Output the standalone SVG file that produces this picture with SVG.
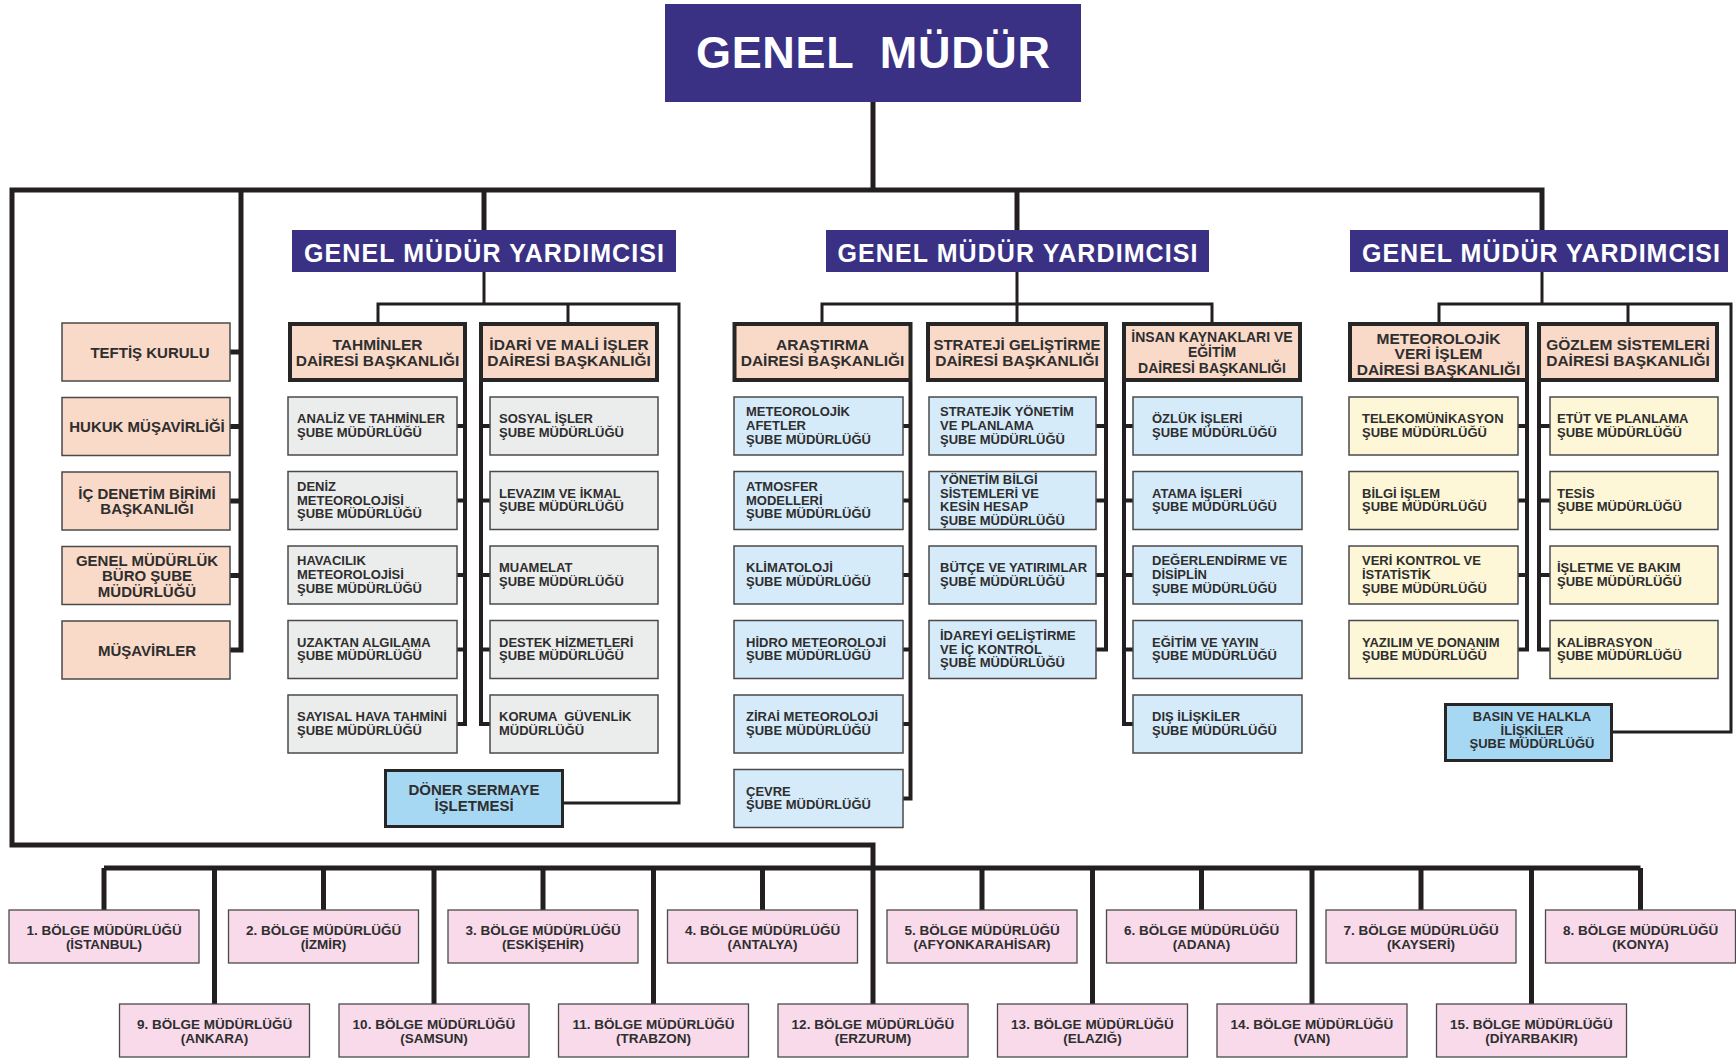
<svg xmlns="http://www.w3.org/2000/svg" width="1736" height="1059" viewBox="0 0 1736 1059">
<style>
.t{font-family:"Liberation Sans",Arial,Helvetica,sans-serif;font-weight:bold;fill:#2e2e2e}
.m{text-anchor:middle}
.w{fill:#ffffff}
.s13{font-size:13px}
.s15{font-size:15px}
.s155{font-size:15.5px}
.s135{font-size:13.5px}
.gm{fill:#3a3185}
.pe{fill:#f9d9c8;stroke:#4a4a4a;stroke-width:1.5}
.pd{fill:#f9d9c8;stroke:#262626;stroke-width:4}
.gr{fill:#ebecec;stroke:#4a4a4a;stroke-width:1.5}
.bl{fill:#d6ebfa;stroke:#4a4a4a;stroke-width:1.5}
.ye{fill:#fdf6d7;stroke:#4a4a4a;stroke-width:1.5}
.db{fill:#a6d8f4;stroke:#262626;stroke-width:3}
.pk{fill:#f8daeb;stroke:#4a4a4a;stroke-width:1.3}
.ln{fill:none;stroke:#231f20;stroke-linejoin:miter}
.tr{stroke-width:5}
.sp{stroke-width:4}
.br{stroke-width:3}
</style>
<rect width="1736" height="1059" fill="#ffffff"/>

<g id="connectors">
  <g class="ln tr">
    <path d="M873,102 V190"/>
    <path d="M873,1004 V845 H12 V190 H1542 V230"/>
    <path d="M484,190 V230 M1017,190 V230"/>
    <path d="M241,190 V650 H230"/>
    <path d="M230,352 H241 M230,426.5 H241 M230,501 H241 M230,575.5 H241"/>
    <path d="M104,868 H1640.5"/>
    <path d="M104,868 V910 M323.5,868 V910 M543,868 V910 M762.5,868 V910 M982,868 V910 M1201.5,868 V910 M1421,868 V910 M1640.5,868 V910"/>
    <path d="M214.5,868 V1004 M434,868 V1004 M653.5,868 V1004 M1092.5,868 V1004 M1312,868 V1004 M1531.5,868 V1004"/>
  </g>
  <g class="ln br">
    <path d="M484,272 V304 M1017,272 V304 M1542,272 V304"/>
    <path d="M378,322 V304 H679 V803 H564"/>
    <path d="M568,304 V322"/>
    <path d="M822,322 V304 H1212 V322"/>
    <path d="M1017,304 V322"/>
    <path d="M1439,322 V304 H1731 V732 H1613"/>
    <path d="M1628,304 V322"/>
  </g>
  <g class="ln sp">
    <path d="M465,382 V724 H457 M457,426 H465 M457,500.5 H465 M457,575 H465 M457,649.5 H465"/>
    <path d="M481,382 V724 H490 M490,426 H481 M490,500.5 H481 M490,575 H481 M490,649.5 H481"/>
    <path d="M910.5,382 V798.5 H903 M903,426 H910.5 M903,500.5 H910.5 M903,575 H910.5 M903,649.5 H910.5 M903,724 H910.5"/>
    <path d="M1106,382 V649.5 H1096 M1096,426 H1106 M1096,500.5 H1106 M1096,575 H1106"/>
    <path d="M1124,382 V724 H1133 M1133,426 H1124 M1133,500.5 H1124 M1133,575 H1124 M1133,649.5 H1124"/>
    <path d="M1527,382 V649.5 H1518 M1518,426 H1527 M1518,500.5 H1527 M1518,575 H1527"/>
    <path d="M1539,382 V649.5 H1550 M1550,426 H1539 M1550,500.5 H1539 M1550,575 H1539"/>
  </g>
</g>

<g id="genel-mudur">
  <rect class="gm" x="665" y="4" width="416" height="98"/>
  <text class="t w m" x="873" y="68" font-size="45" textLength="354" xml:space="preserve">GENEL  MÜDÜR</text>
</g>
<g id="gmy1"><rect class="gm" x="292" y="230" width="384" height="42"/><text class="t w m" x="484" y="262" font-size="25" textLength="360">GENEL MÜDÜR YARDIMCISI</text></g>
<g id="gmy2"><rect class="gm" x="826" y="230" width="383" height="42"/><text class="t w m" x="1017.5" y="262" font-size="25" textLength="360">GENEL MÜDÜR YARDIMCISI</text></g>
<g id="gmy3"><rect class="gm" x="1350" y="230" width="378" height="42"/><text class="t w m" x="1541" y="262" font-size="25" textLength="358">GENEL MÜDÜR YARDIMCISI</text></g>

<!-- left units -->
<g id="teftis"><rect class="pe" x="62" y="323" width="168" height="58"/><text class="t s15 m" x="150" y="357.5">TEFTİŞ KURULU</text></g>
<g id="hukuk"><rect class="pe" x="62" y="397.5" width="168" height="58"/><text class="t s15 m" x="147" y="432">HUKUK MÜŞAVİRLİĞİ</text></g>
<g id="ic-denetim"><rect class="pe" x="62" y="472" width="168" height="58"/><text class="t s15 m"><tspan x="147" y="498.8">İÇ DENETİM BİRİMİ</tspan><tspan x="147" y="514.3">BAŞKANLIĞI</tspan></text></g>
<g id="buro"><rect class="pe" x="62" y="546.5" width="168" height="58"/><text class="t s15 m"><tspan x="147" y="565.5">GENEL MÜDÜRLÜK</tspan><tspan x="147" y="581">BÜRO ŞUBE</tspan><tspan x="147" y="596.5">MÜDÜRLÜĞÜ</tspan></text></g>
<g id="musavirler"><rect class="pe" x="62" y="621" width="168" height="58"/><text class="t s15 m" x="147" y="655.5">MÜŞAVİRLER</text></g>

<!-- daire baskanliklari -->
<g id="tahminler"><rect class="pd" x="290" y="324" width="175" height="56"/><text class="t s155 m"><tspan x="377.5" y="349.5">TAHMİNLER</tspan><tspan x="377.5" y="365.5">DAİRESİ BAŞKANLIĞI</tspan></text></g>
<g id="idari"><rect class="pd" x="481" y="324" width="176" height="56"/><text class="t s155 m"><tspan x="569" y="349.5">İDARİ VE MALİ İŞLER</tspan><tspan x="569" y="365.5">DAİRESİ BAŞKANLIĞI</tspan></text></g>
<g id="arastirma"><rect class="pd" x="734.5" y="324" width="176" height="56"/><text class="t s155 m"><tspan x="822.5" y="349.5">ARAŞTIRMA</tspan><tspan x="822.5" y="365.5">DAİRESİ BAŞKANLIĞI</tspan></text></g>
<g id="strateji"><rect class="pd" x="928" y="324" width="178" height="56"/><text class="t m"><tspan class="s15" x="1017" y="349.5">STRATEJİ GELİŞTİRME</tspan><tspan class="s155" x="1017" y="365.5">DAİRESİ BAŞKANLIĞI</tspan></text></g>
<g id="insan"><rect class="pd" x="1124" y="324" width="176" height="56"/><text class="t m" font-size="14"><tspan x="1212" y="342">İNSAN KAYNAKLARI VE</tspan><tspan x="1212" y="357">EĞİTİM</tspan><tspan x="1212" y="372.5">DAİRESİ BAŞKANLIĞI</tspan></text></g>
<g id="veri-islem"><rect class="pd" x="1350" y="324" width="177" height="56"/><text class="t s155 m"><tspan x="1438.5" y="343.5">METEOROLOJİK</tspan><tspan x="1438.5" y="359">VERİ İŞLEM</tspan><tspan x="1438.5" y="374.5">DAİRESİ BAŞKANLIĞI</tspan></text></g>
<g id="gozlem"><rect class="pd" x="1539" y="324" width="178" height="56"/><text class="t s155 m"><tspan x="1628" y="350">GÖZLEM SİSTEMLERİ</tspan><tspan x="1628" y="365.5">DAİRESİ BAŞKANLIĞI</tspan></text></g>

<!-- Tahminler children -->
<g id="analiz"><rect class="gr" x="288" y="397" width="169" height="58"/><text class="t s13"><tspan x="297" y="423.2">ANALİZ VE TAHMİNLER</tspan><tspan x="297" y="436.8">ŞUBE MÜDÜRLÜĞÜ</tspan></text></g>
<g id="deniz"><rect class="gr" x="288" y="471.5" width="169" height="58"/><text class="t s13"><tspan x="297" y="490.9">DENİZ</tspan><tspan x="297" y="504.5">METEOROLOJİSİ</tspan><tspan x="297" y="518.1">ŞUBE MÜDÜRLÜĞÜ</tspan></text></g>
<g id="havacilik"><rect class="gr" x="288" y="546" width="169" height="58"/><text class="t s13"><tspan x="297" y="565.4">HAVACILIK</tspan><tspan x="297" y="579">METEOROLOJİSİ</tspan><tspan x="297" y="592.6">ŞUBE MÜDÜRLÜĞÜ</tspan></text></g>
<g id="uzaktan"><rect class="gr" x="288" y="620.5" width="169" height="58"/><text class="t s13"><tspan x="297" y="646.7">UZAKTAN ALGILAMA</tspan><tspan x="297" y="660.3">ŞUBE MÜDÜRLÜĞÜ</tspan></text></g>
<g id="sayisal"><rect class="gr" x="288" y="695" width="169" height="58"/><text class="t s13"><tspan x="297" y="721.2">SAYISAL HAVA TAHMİNİ</tspan><tspan x="297" y="734.8">ŞUBE MÜDÜRLÜĞÜ</tspan></text></g>

<!-- Idari children -->
<g id="sosyal"><rect class="gr" x="490" y="397" width="168" height="58"/><text class="t s13"><tspan x="499" y="423.2">SOSYAL İŞLER</tspan><tspan x="499" y="436.8">ŞUBE MÜDÜRLÜĞÜ</tspan></text></g>
<g id="levazim"><rect class="gr" x="490" y="471.5" width="168" height="58"/><text class="t s13"><tspan x="499" y="497.7">LEVAZIM VE İKMAL</tspan><tspan x="499" y="511.3">ŞUBE MÜDÜRLÜĞÜ</tspan></text></g>
<g id="muamelat"><rect class="gr" x="490" y="546" width="168" height="58"/><text class="t s13"><tspan x="499" y="572.2">MUAMELAT</tspan><tspan x="499" y="585.8">ŞUBE MÜDÜRLÜĞÜ</tspan></text></g>
<g id="destek"><rect class="gr" x="490" y="620.5" width="168" height="58"/><text class="t s13"><tspan x="499" y="646.7">DESTEK HİZMETLERİ</tspan><tspan x="499" y="660.3">ŞUBE MÜDÜRLÜĞÜ</tspan></text></g>
<g id="koruma"><rect class="gr" x="490" y="695" width="168" height="58"/><text class="t s13" xml:space="preserve"><tspan x="499" y="721.2">KORUMA  GÜVENLİK</tspan><tspan x="499" y="734.8">MÜDÜRLÜĞÜ</tspan></text></g>

<g id="doner"><rect class="db" x="385.5" y="770.5" width="177" height="56"/><text class="t s15 m"><tspan x="474" y="795">DÖNER SERMAYE</tspan><tspan x="474" y="811">İŞLETMESİ</tspan></text></g>

<!-- Arastirma children -->
<g id="afetler"><rect class="bl" x="734" y="397" width="169" height="58"/><text class="t s13"><tspan x="746" y="416.4">METEOROLOJİK</tspan><tspan x="746" y="430">AFETLER</tspan><tspan x="746" y="443.6">ŞUBE MÜDÜRLÜĞÜ</tspan></text></g>
<g id="atmosfer"><rect class="bl" x="734" y="471.5" width="169" height="58"/><text class="t s13"><tspan x="746" y="490.9">ATMOSFER</tspan><tspan x="746" y="504.5">MODELLERİ</tspan><tspan x="746" y="518.1">ŞUBE MÜDÜRLÜĞÜ</tspan></text></g>
<g id="klimatoloji"><rect class="bl" x="734" y="546" width="169" height="58"/><text class="t s13"><tspan x="746" y="572.2">KLİMATOLOJİ</tspan><tspan x="746" y="585.8">ŞUBE MÜDÜRLÜĞÜ</tspan></text></g>
<g id="hidro"><rect class="bl" x="734" y="620.5" width="169" height="58"/><text class="t s13"><tspan x="746" y="646.7">HİDRO METEOROLOJİ</tspan><tspan x="746" y="660.3">ŞUBE MÜDÜRLÜĞÜ</tspan></text></g>
<g id="zirai"><rect class="bl" x="734" y="695" width="169" height="58"/><text class="t s13"><tspan x="746" y="721.2">ZİRAİ METEOROLOJİ</tspan><tspan x="746" y="734.8">ŞUBE MÜDÜRLÜĞÜ</tspan></text></g>
<g id="cevre"><rect class="bl" x="734" y="769.5" width="169" height="58"/><text class="t s13"><tspan x="746" y="795.7">ÇEVRE</tspan><tspan x="746" y="809.3">ŞUBE MÜDÜRLÜĞÜ</tspan></text></g>

<!-- Strateji children -->
<g id="stratejik"><rect class="bl" x="929" y="397" width="167" height="58"/><text class="t s13"><tspan x="940" y="416.4">STRATEJİK YÖNETİM</tspan><tspan x="940" y="430">VE PLANLAMA</tspan><tspan x="940" y="443.6">ŞUBE MÜDÜRLÜĞÜ</tspan></text></g>
<g id="ybs"><rect class="bl" x="929" y="471.5" width="167" height="58"/><text class="t s13"><tspan x="940" y="484.1">YÖNETİM BİLGİ</tspan><tspan x="940" y="497.7">SİSTEMLERİ VE</tspan><tspan x="940" y="511.3">KESİN HESAP</tspan><tspan x="940" y="524.9">ŞUBE MÜDÜRLÜĞÜ</tspan></text></g>
<g id="butce"><rect class="bl" x="929" y="546" width="167" height="58"/><text class="t s13"><tspan x="940" y="572.2">BÜTÇE VE YATIRIMLAR</tspan><tspan x="940" y="585.8">ŞUBE MÜDÜRLÜĞÜ</tspan></text></g>
<g id="idareyi"><rect class="bl" x="929" y="620.5" width="167" height="58"/><text class="t s13"><tspan x="940" y="639.9">İDAREYİ GELİŞTİRME</tspan><tspan x="940" y="653.5">VE İÇ KONTROL</tspan><tspan x="940" y="667.1">ŞUBE MÜDÜRLÜĞÜ</tspan></text></g>

<!-- Insan children -->
<g id="ozluk"><rect class="bl" x="1133" y="397" width="169" height="58"/><text class="t s13"><tspan x="1152" y="423.2">ÖZLÜK İŞLERİ</tspan><tspan x="1152" y="436.8">ŞUBE MÜDÜRLÜĞÜ</tspan></text></g>
<g id="atama"><rect class="bl" x="1133" y="471.5" width="169" height="58"/><text class="t s13"><tspan x="1152" y="497.7">ATAMA İŞLERİ</tspan><tspan x="1152" y="511.3">ŞUBE MÜDÜRLÜĞÜ</tspan></text></g>
<g id="degerlendirme"><rect class="bl" x="1133" y="546" width="169" height="58"/><text class="t s13"><tspan x="1152" y="565.4">DEĞERLENDİRME VE</tspan><tspan x="1152" y="579">DİSİPLİN</tspan><tspan x="1152" y="592.6">ŞUBE MÜDÜRLÜĞÜ</tspan></text></g>
<g id="egitim"><rect class="bl" x="1133" y="620.5" width="169" height="58"/><text class="t s13"><tspan x="1152" y="646.7">EĞİTİM VE YAYIN</tspan><tspan x="1152" y="660.3">ŞUBE MÜDÜRLÜĞÜ</tspan></text></g>
<g id="dis-iliskiler"><rect class="bl" x="1133" y="695" width="169" height="58"/><text class="t s13"><tspan x="1152" y="721.2">DIŞ İLİŞKİLER</tspan><tspan x="1152" y="734.8">ŞUBE MÜDÜRLÜĞÜ</tspan></text></g>

<!-- Veri islem children -->
<g id="telekom"><rect class="ye" x="1349" y="397" width="169" height="58"/><text class="t s13"><tspan x="1362" y="423.2">TELEKOMÜNİKASYON</tspan><tspan x="1362" y="436.8">ŞUBE MÜDÜRLÜĞÜ</tspan></text></g>
<g id="bilgi-islem"><rect class="ye" x="1349" y="471.5" width="169" height="58"/><text class="t s13"><tspan x="1362" y="497.7">BİLGİ İŞLEM</tspan><tspan x="1362" y="511.3">ŞUBE MÜDÜRLÜĞÜ</tspan></text></g>
<g id="veri-kontrol"><rect class="ye" x="1349" y="546" width="169" height="58"/><text class="t s13"><tspan x="1362" y="565.4">VERİ KONTROL VE</tspan><tspan x="1362" y="579">İSTATİSTİK</tspan><tspan x="1362" y="592.6">ŞUBE MÜDÜRLÜĞÜ</tspan></text></g>
<g id="yazilim"><rect class="ye" x="1349" y="620.5" width="169" height="58"/><text class="t s13"><tspan x="1362" y="646.7">YAZILIM VE DONANIM</tspan><tspan x="1362" y="660.3">ŞUBE MÜDÜRLÜĞÜ</tspan></text></g>

<!-- Gozlem children -->
<g id="etut"><rect class="ye" x="1550" y="397" width="168" height="58"/><text class="t s13"><tspan x="1557" y="423.2">ETÜT VE PLANLAMA</tspan><tspan x="1557" y="436.8">ŞUBE MÜDÜRLÜĞÜ</tspan></text></g>
<g id="tesis"><rect class="ye" x="1550" y="471.5" width="168" height="58"/><text class="t s13"><tspan x="1557" y="497.7">TESİS</tspan><tspan x="1557" y="511.3">ŞUBE MÜDÜRLÜĞÜ</tspan></text></g>
<g id="isletme"><rect class="ye" x="1550" y="546" width="168" height="58"/><text class="t s13"><tspan x="1557" y="572.2">İŞLETME VE BAKIM</tspan><tspan x="1557" y="585.8">ŞUBE MÜDÜRLÜĞÜ</tspan></text></g>
<g id="kalibrasyon"><rect class="ye" x="1550" y="620.5" width="168" height="58"/><text class="t s13"><tspan x="1557" y="646.7">KALİBRASYON</tspan><tspan x="1557" y="660.3">ŞUBE MÜDÜRLÜĞÜ</tspan></text></g>

<g id="basin"><rect class="db" x="1445.5" y="704.5" width="166" height="56"/><text class="t s13 m"><tspan x="1532" y="721">BASIN VE HALKLA</tspan><tspan x="1532" y="734.5">İLİŞKİLER</tspan><tspan x="1532" y="748">ŞUBE MÜDÜRLÜĞÜ</tspan></text></g>

<!-- Bolge mudurlukleri -->
<g id="bolge1"><rect class="pk" x="9" y="910" width="190" height="53"/><text class="t s135 m"><tspan x="104" y="935">1. BÖLGE MÜDÜRLÜĞÜ</tspan><tspan x="104" y="949">(İSTANBUL)</tspan></text></g>
<g id="bolge2"><rect class="pk" x="228.5" y="910" width="190" height="53"/><text class="t s135 m"><tspan x="323.5" y="935">2. BÖLGE MÜDÜRLÜĞÜ</tspan><tspan x="323.5" y="949">(İZMİR)</tspan></text></g>
<g id="bolge3"><rect class="pk" x="448" y="910" width="190" height="53"/><text class="t s135 m"><tspan x="543" y="935">3. BÖLGE MÜDÜRLÜĞÜ</tspan><tspan x="543" y="949">(ESKİŞEHİR)</tspan></text></g>
<g id="bolge4"><rect class="pk" x="667.5" y="910" width="190" height="53"/><text class="t s135 m"><tspan x="762.5" y="935">4. BÖLGE MÜDÜRLÜĞÜ</tspan><tspan x="762.5" y="949">(ANTALYA)</tspan></text></g>
<g id="bolge5"><rect class="pk" x="887" y="910" width="190" height="53"/><text class="t s135 m"><tspan x="982" y="935">5. BÖLGE MÜDÜRLÜĞÜ</tspan><tspan x="982" y="949">(AFYONKARAHİSAR)</tspan></text></g>
<g id="bolge6"><rect class="pk" x="1106.5" y="910" width="190" height="53"/><text class="t s135 m"><tspan x="1201.5" y="935">6. BÖLGE MÜDÜRLÜĞÜ</tspan><tspan x="1201.5" y="949">(ADANA)</tspan></text></g>
<g id="bolge7"><rect class="pk" x="1326" y="910" width="190" height="53"/><text class="t s135 m"><tspan x="1421" y="935">7. BÖLGE MÜDÜRLÜĞÜ</tspan><tspan x="1421" y="949">(KAYSERİ)</tspan></text></g>
<g id="bolge8"><rect class="pk" x="1545.5" y="910" width="190" height="53"/><text class="t s135 m"><tspan x="1640.5" y="935">8. BÖLGE MÜDÜRLÜĞÜ</tspan><tspan x="1640.5" y="949">(KONYA)</tspan></text></g>
<g id="bolge9"><rect class="pk" x="119.5" y="1004" width="190" height="53"/><text class="t s135 m"><tspan x="214.5" y="1029">9. BÖLGE MÜDÜRLÜĞÜ</tspan><tspan x="214.5" y="1043">(ANKARA)</tspan></text></g>
<g id="bolge10"><rect class="pk" x="339" y="1004" width="190" height="53"/><text class="t s135 m"><tspan x="434" y="1029">10. BÖLGE MÜDÜRLÜĞÜ</tspan><tspan x="434" y="1043">(SAMSUN)</tspan></text></g>
<g id="bolge11"><rect class="pk" x="558.5" y="1004" width="190" height="53"/><text class="t s135 m"><tspan x="653.5" y="1029">11. BÖLGE MÜDÜRLÜĞÜ</tspan><tspan x="653.5" y="1043">(TRABZON)</tspan></text></g>
<g id="bolge12"><rect class="pk" x="778" y="1004" width="190" height="53"/><text class="t s135 m"><tspan x="873" y="1029">12. BÖLGE MÜDÜRLÜĞÜ</tspan><tspan x="873" y="1043">(ERZURUM)</tspan></text></g>
<g id="bolge13"><rect class="pk" x="997.5" y="1004" width="190" height="53"/><text class="t s135 m"><tspan x="1092.5" y="1029">13. BÖLGE MÜDÜRLÜĞÜ</tspan><tspan x="1092.5" y="1043">(ELAZIĞ)</tspan></text></g>
<g id="bolge14"><rect class="pk" x="1217" y="1004" width="190" height="53"/><text class="t s135 m"><tspan x="1312" y="1029">14. BÖLGE MÜDÜRLÜĞÜ</tspan><tspan x="1312" y="1043">(VAN)</tspan></text></g>
<g id="bolge15"><rect class="pk" x="1436.5" y="1004" width="190" height="53"/><text class="t s135 m"><tspan x="1531.5" y="1029">15. BÖLGE MÜDÜRLÜĞÜ</tspan><tspan x="1531.5" y="1043">(DİYARBAKIR)</tspan></text></g>
</svg>
